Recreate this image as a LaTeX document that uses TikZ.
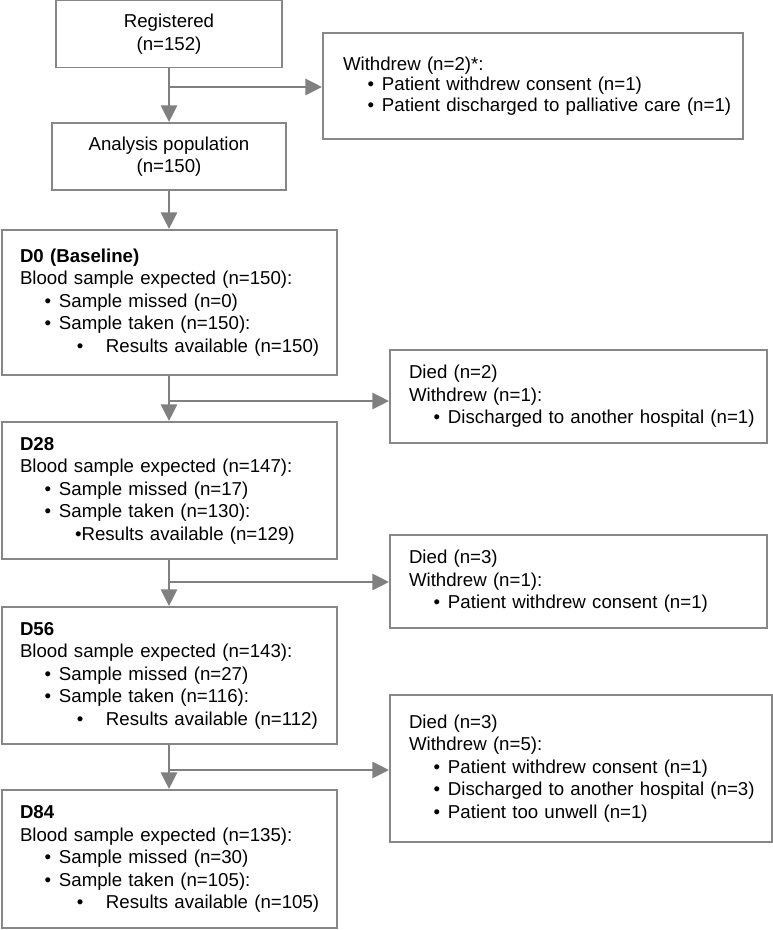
\documentclass[tikz,border=0pt]{standalone}
\usepackage{fontspec}
\setmainfont{Liberation Sans}
\usetikzlibrary{arrows.meta}

\definecolor{linegray}{RGB}{128,128,128}
\definecolor{boxgray}{RGB}{135,135,135}

\newcommand{\bul}[1]{\mbox{\hspace{18.5pt}\makebox[10.75pt][l]{\textbullet}#1}}
\newcommand{\subbul}[1]{\mbox{\hspace{42.6pt}\makebox[21.9pt][l]{\textbullet}#1}}
\newcommand{\tightbul}[1]{\mbox{\hspace{41.25pt}\textbullet#1}}

\begin{document}
\begin{tikzpicture}[x=0.75pt, y=-0.75pt,
  every node/.style={draw=boxgray, line width=1.4pt, shape=rectangle, font=\fontsize{14pt}{16.9pt}\selectfont},
  topbox/.style={align=center, minimum height=50.25pt},
  stagebox/.style={align=left, text width=224.25pt, inner xsep=13.5pt},
  exitbox/.style={align=left, inner xsep=14.25pt},
  flow/.style={draw=linegray, line width=2.2pt, -{Triangle[length=12.5pt, width=12pt]}},
  trunk/.style={draw=linegray, line width=2.2pt}]
\useasboundingbox (0,0) rectangle (773,930);

% Define nodes
\path
(169,34) node[topbox, minimum width=169.5pt] (reg) {Registered\\(n=152)}
(169,156.5) node[topbox, minimum width=175.5pt] (ana) {Analysis population\\(n=150)}
(533,86) node[exitbox, text width=285pt, inner xsep=15pt, minimum height=79.5pt,
  font=\fontsize{14pt}{15.3pt}\selectfont] (wd)
  {Withdrew (n=2)*:\\\bul{Patient withdrew consent (n=1)}\\\bul{Patient discharged to palliative care (n=1)}}
(169.5,302.5) node[stagebox, minimum height=108.75pt] (d0)
  {\textbf{D0 (Baseline)}\\Blood sample expected (n=150):\\\bul{Sample missed (n=0)}\\\bul{Sample taken (n=150):}\\\subbul{Results available (n=150)}}
(578.5,396.5) node[exitbox, text width=254.25pt, minimum height=69.75pt] (died1)
  {Died (n=2)\\Withdrew (n=1):\\\bul{Discharged to another hospital (n=1)}}
(169.5,490.5) node[stagebox, minimum height=102.75pt] (d28)
  {\textbf{D28}\\Blood sample expected (n=147):\\\bul{Sample missed (n=17)}\\\bul{Sample taken (n=130):}\\\tightbul{Results available (n=129)}}
(578.5,581.5) node[exitbox, text width=254.25pt, minimum height=69.75pt] (died2)
  {Died (n=3)\\Withdrew (n=1):\\\bul{Patient withdrew consent (n=1)}}
(169.5,675.5) node[stagebox, minimum height=102.75pt] (d56)
  {\textbf{D56}\\Blood sample expected (n=143):\\\bul{Sample missed (n=27)}\\\bul{Sample taken (n=116):}\\\subbul{Results available (n=112)}}
(581,768.5) node[exitbox, text width=258pt, minimum height=110.25pt] (died3)
  {Died (n=3)\\Withdrew (n=5):\\\bul{Patient withdrew consent (n=1)}\\\bul{Discharged to another hospital (n=3)}\\\bul{Patient too unwell (n=1)}}
(169.5,859) node[stagebox, minimum height=103.5pt] (d84)
  {\textbf{D84}\\Blood sample expected (n=135):\\\bul{Sample missed (n=30)}\\\bul{Sample taken (n=105):}\\\subbul{Results available (n=105)}}
;

% branch points on the trunk
\coordinate (b0) at (169,87);
\coordinate (b1) at (169,401);
\coordinate (b2) at (169,582);
\coordinate (b3) at (169,770);

\draw[flow] (reg.south) -- (ana.north);
\draw[flow] (ana.south) -- (ana.south |- d0.north);
\draw[flow] (d0.south -| reg.south) -- (d28.north -| reg.south);
\draw[flow] (d28.south -| reg.south) -- (d56.north -| reg.south);
\draw[flow] (d56.south -| reg.south) -- (d84.north -| reg.south);

\draw[flow] (b0) -- (b0 -| wd.west);
\draw[flow] (b1) -- (b1 -| died1.west);
\draw[flow] (b2) -- (b2 -| died2.west);
\draw[flow] (b3) -- (b3 -| died3.west);

\end{tikzpicture}
\end{document}
